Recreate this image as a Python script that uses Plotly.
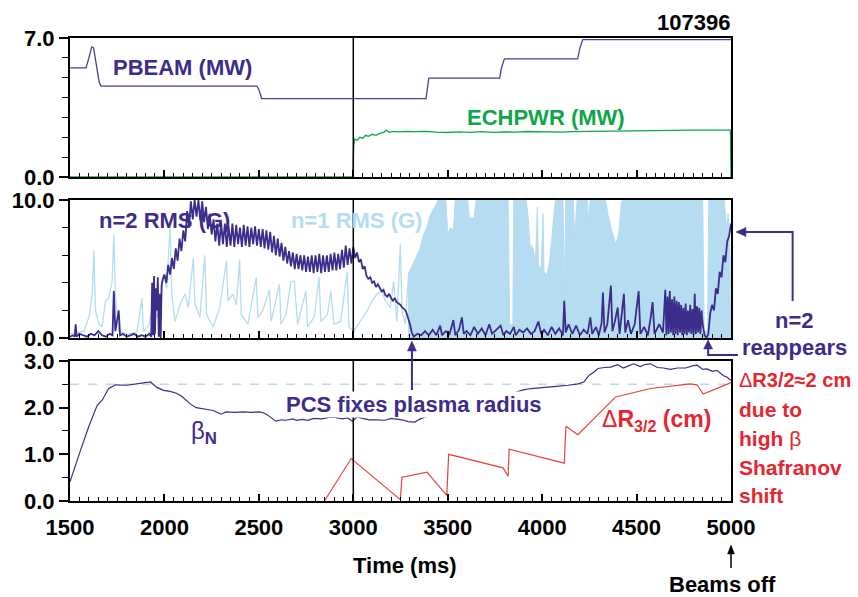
import math
import plotly.graph_objects as go
from plotly.subplots import make_subplots

# ---------------- data ----------------
pbeam_t = [1500, 1585, 1600, 1615, 1625, 1640, 1655, 1665, 2490, 2500, 2515, 3385, 3390, 3400,
           3775, 3785, 3800, 4188, 4200, 4215, 5000]
pbeam_v = [5.5, 5.5, 6.0, 6.55, 6.5, 5.5, 4.75, 4.58, 4.58, 4.4, 3.95, 3.95, 4.3, 4.98,
           4.98, 5.5, 5.95, 5.95, 6.5, 6.92, 6.92]

ech_t = [1500, 2998, 3002, 3008, 3020, 3035, 3050, 3065, 3080, 3100, 3120, 3140, 3160, 3175, 3190,
         3210, 3240, 3280, 3320, 3380, 3440, 3500, 3560, 3620, 3680, 3740, 3800, 3860, 3920, 3980,
         4040, 4100, 4160, 4220, 4280, 4340, 4400, 4460, 4520, 4580, 4640, 4700, 4800, 4900, 4997, 5000]
ech_v = [0, 0, 1.6, 1.9, 1.85, 2.0, 1.95, 2.1, 2.05, 2.15, 2.1, 2.2, 2.25, 2.35, 2.25,
         2.3, 2.27, 2.3, 2.28, 2.3, 2.26, 2.24, 2.27, 2.25, 2.28, 2.25, 2.27, 2.26, 2.29, 2.27,
         2.28, 2.26, 2.28, 2.29, 2.28, 2.30, 2.30, 2.31, 2.33, 2.35, 2.35, 2.36, 2.36, 2.36, 2.36, 0]

n1_early_t = [1500, 1539, 1574, 1600, 1618, 1626, 1635, 1653, 1670, 1688, 1705, 1723, 1732, 1740, 1758,
              1802, 1854, 1881, 1889, 1916, 1933, 1960, 1977, 1995, 2012, 2030, 2039, 2056, 2082, 2109,
              2126, 2153, 2161, 2188, 2214, 2223, 2258, 2293, 2328, 2337, 2363, 2381, 2398, 2407, 2442,
              2486, 2495, 2521, 2556, 2565, 2609, 2617, 2644, 2670, 2688, 2705, 2749, 2758, 2793, 2819,
              2828, 2863, 2881, 2898, 2933, 2968, 2977, 3003, 3038, 3074, 3100, 3126, 3152, 3170, 3196,
              3214, 3231, 3249, 3258, 3275, 3293]
n1_early_v = [0.3, 0.4, 0.5, 1.5, 3.2, 6.3, 2.0, 1.0, 0.8, 2.7, 2.9, 4.1, 7.5, 3.2, 0.5,
              0.3, 0.4, 2.9, 0.5, 0.9, 2.0, 1.5, 2.4, 4.6, 3.6, 8.0, 3.2, 1.2, 2.4, 3.2,
              2.2, 5.8, 2.5, 1.5, 6.0, 1.7, 0.8, 2.2, 5.6, 2.7, 3.2, 2.4, 5.7, 1.7, 1.0,
              4.4, 1.5, 2.0, 3.5, 1.2, 3.9, 1.0, 1.7, 4.1, 4.1, 1.0, 3.4, 0.8, 1.5, 4.4,
              1.2, 1.7, 3.4, 1.0, 1.2, 4.8, 0.8, 0.5, 1.2, 2.0, 2.7, 3.2, 3.4, 2.7, 2.2,
              4.1, 1.2, 6.8, 2.0, 1.0, 4.6]

n1_late_t = [3290, 3310, 3320, 3337, 3354, 3372, 3389, 3407, 3433, 3450, 3490, 3500, 3515, 3530, 3540,
             3605, 3615, 3640, 3650, 3820, 3828, 3845, 3850, 3915, 3925, 3935, 3950, 3965, 3975, 3980,
             3995, 4005, 4010, 4025, 4040, 4055, 4070, 4110, 4118, 4125, 4165, 4172, 4185, 4240, 4245,
             4255, 4335, 4350, 4370, 4390, 4405, 4420, 4430, 4850, 4858, 4876, 4882, 4965, 4975, 4985,
             4995, 5000]
n1_late_v = [4.6, 5.2, 5.6, 6.0, 6.5, 7.5, 8.0, 8.9, 9.6, 10, 10, 7.5, 8.0, 7.8, 10,
             10, 8.7, 8.7, 10, 10, 1.0, 1.0, 10, 10, 8.9, 6.8, 6.6, 5.6, 9.5, 5.3,
             5.0, 9.0, 4.8, 4.6, 5.6, 8.0, 10, 10, 3.2, 10, 10, 7.2, 10, 10, 8.5,
             10, 10, 8.9, 7.7, 6.8, 7.5, 9.9, 10, 10, 0.5, 0.5, 10, 10, 8.0, 9.0,
             6.0, 2.0]

n2_t = [1500, 1515, 1525, 1530, 1535, 1550, 1570, 1590, 1610, 1630, 1650, 1670, 1690, 1710, 1725,
        1732, 1740, 1750, 1758, 1765, 1780, 1800, 1820, 1840, 1860, 1880, 1900, 1920, 1930, 1935,
        1940, 1945, 1950, 1955, 1960, 1965, 1970, 1975, 1980, 1985,
        1990, 2000, 2010, 2020, 2030, 2040, 2050, 2060, 2070, 2080, 2090, 2100, 2110, 2120, 2130,
        2140, 2150, 2160, 2170, 2180, 2190, 2200, 2210, 2220, 2230, 2240, 2250, 2260, 2270, 2280,
        2290, 2300, 2310, 2320, 2330, 2340, 2350, 2360, 2370, 2380, 2390, 2400, 2410, 2420, 2430,
        2440, 2450, 2460, 2470, 2480, 2490, 2500, 2510, 2520, 2530, 2540, 2550, 2560, 2570, 2580,
        2590, 2600, 2610, 2620, 2630, 2640, 2650, 2660, 2670, 2680, 2690, 2700, 2710, 2720, 2730,
        2740, 2750, 2760, 2770, 2780, 2790, 2800, 2810, 2820, 2830, 2840, 2850, 2860, 2870, 2880,
        2890, 2900, 2910, 2920, 2930, 2940, 2950, 2960, 2970, 2980, 2990, 3000,
        3010, 3020, 3030, 3040, 3050, 3060, 3070, 3080, 3090, 3100, 3110, 3120, 3130, 3140, 3150,
        3160, 3170, 3180, 3190, 3200, 3210, 3220, 3230, 3240, 3250, 3260, 3270, 3280, 3290, 3300,
        3310, 3320,
        3340, 3360, 3380, 3400, 3420, 3440, 3460, 3470, 3490, 3510, 3530, 3540, 3560, 3575, 3585,
        3600, 3620, 3640, 3660, 3680, 3700, 3720, 3735, 3760, 3780, 3795, 3810, 3830, 3850, 3860,
        3880, 3900, 3920, 3940, 3960, 3980, 3995, 4010, 4030, 4050, 4070, 4090, 4110, 4117, 4125,
        4140, 4160, 4180, 4200, 4220, 4240, 4255, 4265, 4285, 4300, 4315, 4322, 4330, 4345, 4364,
        4372, 4385, 4400, 4410, 4433, 4440, 4455, 4470, 4490, 4511, 4520, 4540, 4560, 4575, 4585,
        4595, 4620, 4640, 4652, 4658, 4664, 4670, 4676, 4682, 4688, 4694, 4700, 4706, 4712, 4718,
        4724, 4730, 4736, 4742, 4748, 4754, 4760, 4766, 4772, 4778, 4784, 4790, 4796, 4802, 4808,
        4814, 4820, 4826, 4832, 4838, 4844, 4850, 4860, 4870, 4880, 4890, 4900, 4910, 4920, 4930,
        4940, 4950, 4960, 4970, 4980, 4990, 5000]
n2_v = [0.1, 0.2, 0.1, 1.0, 0.1, 0.3, 0.2, 0.1, 0.3, 0.2, 0.5, 0.2, 0.1, 0.3, 0.2,
        3.4, 0.5, 1.5, 2.0, 0.2, 0.3, 0.1, 0.2, 0.3, 0.1, 0.2, 0.1, 0.3, 0.1, 4.0,
        0.2, 4.5, 0.3, 3.6, 2.0, 4.4, 0.1, 3.2, 0.0, 3.8,
        4.2, 4.6, 4.0, 5.3, 4.6, 5.8, 5.0, 6.5, 5.6, 7.2, 6.3, 7.8, 7.0, 9.2, 8.0,
        9.9, 8.6, 10.0, 8.8, 10.0, 8.5, 9.9, 8.4, 9.5, 7.9, 9.0, 7.5, 8.6, 7.0, 8.3,
        6.7, 8.4, 6.8, 8.3, 6.6, 8.1, 6.7, 8.3, 6.6, 8.2, 6.8, 8.0, 6.6, 8.2, 6.7,
        8.1, 6.6, 8.0, 6.8, 8.1, 6.7, 7.9, 6.6, 7.9, 6.5, 7.8, 6.4, 7.7, 6.2, 7.4,
        6.0, 7.2, 5.9, 6.9, 5.6, 6.6, 5.4, 6.3, 5.2, 6.2, 5.0, 6.1, 5.0, 6.0, 4.9,
        6.0, 4.8, 5.9, 4.8, 6.0, 4.7, 6.0, 4.8, 6.1, 4.7, 6.0, 4.8, 6.0, 4.8, 6.1,
        4.9, 6.2, 4.9, 6.1, 5.0, 6.4, 5.1, 6.7, 5.3, 6.5, 5.4, 6.6,
        5.8, 6.2, 5.5, 5.7, 5.0, 5.2, 4.5, 4.3, 4.4, 4.0, 4.1, 3.7, 3.9, 3.6, 3.4,
        3.5, 3.1, 3.0, 3.2, 2.9, 2.7, 2.9, 2.6, 2.5, 2.4, 2.2, 2.1, 1.9, 1.5, 1.0,
        0.4, 0.1,
        0.3, 0.2, 0.5, 0.2, 0.6, 0.2, 0.9, 0.2, 0.5, 0.3, 1.3, 0.2, 0.6, 1.5, 0.3,
        0.5, 0.2, 0.8, 0.3, 0.7, 0.2, 1.0, 0.3, 0.6, 0.9, 0.2, 0.5, 0.3, 0.8, 0.2,
        0.6, 0.4, 0.7, 0.3, 0.5, 1.2, 0.3, 0.6, 0.2, 0.8, 0.3, 0.7, 0.2, 2.7, 0.4,
        1.0, 0.3, 0.9, 0.2, 0.6, 0.3, 1.5, 0.3, 0.8, 0.2, 1.1, 3.3, 0.4, 1.0, 3.8,
        0.5, 1.2, 2.2, 0.3, 3.2, 0.4, 1.3, 0.3, 1.0, 3.4, 0.3, 0.8, 0.2, 1.5, 2.6,
        0.3, 1.0, 0.4, 3.5, 0.2, 3.0, 0.3, 3.4, 0.4, 2.8, 0.2, 3.0, 0.3, 2.7, 0.2,
        2.6, 0.4, 2.4, 0.2, 2.2, 0.3, 2.5, 0.2, 2.0, 0.4, 2.4, 0.3, 2.1, 0.2, 3.2,
        0.3, 2.3, 0.4, 2.2, 0.3, 2.0, 1.0, 0.2, 0.0, 0.3, 1.8, 2.4, 2.0, 3.6, 3.2,
        4.8, 4.4, 6.0, 5.5, 7.0, 7.4, 8.3]

beta_t = [1500, 1530, 1556, 1600, 1644, 1670, 1705, 1742, 1800, 1853, 1900, 1926, 1958, 1995, 2030,
          2063, 2090, 2116, 2140, 2168, 2220, 2258, 2290, 2300, 2326, 2370, 2416, 2460, 2505, 2530,
          2547, 2570, 2590, 2620, 2642, 2680, 2700, 2731, 2760, 2790, 2837, 2870, 2905, 2940, 2970,
          2995, 3021, 3050, 3084, 3120, 3168, 3200, 3230, 3258, 3290, 3326, 3350, 3379, 3416, 3450,
          3500, 3550, 3600, 3650, 3700, 3740, 3780, 3821, 3860, 3900, 3942, 4000, 4047, 4090, 4137,
          4189, 4221, 4250, 4270, 4295, 4330, 4363, 4400, 4430, 4460, 4484, 4520, 4540, 4574, 4610,
          4642, 4680, 4716, 4760, 4800, 4821, 4850, 4874, 4900, 4926, 4958, 4980, 5000]
beta_v = [0.41, 0.75, 1.09, 1.6, 2.05, 2.16, 2.41, 2.49, 2.48, 2.51, 2.54, 2.55, 2.44, 2.37, 2.35,
          2.31, 2.25, 2.16, 2.07, 2.0, 1.96, 1.94, 1.88, 1.86, 1.91, 1.90, 1.91, 1.90, 1.91, 1.88,
          1.84, 1.77, 1.71, 1.74, 1.73, 1.76, 1.73, 1.75, 1.73, 1.77, 1.76, 1.79, 1.79, 1.76, 1.78,
          1.71, 1.80, 1.77, 1.74, 1.74, 1.73, 1.77, 1.75, 1.74, 1.70, 1.69, 1.75, 1.80, 1.84, 1.85,
          1.88, 1.93, 1.96, 2.00, 2.06, 2.12, 2.18, 2.30, 2.33, 2.38, 2.41, 2.43, 2.44, 2.46, 2.48,
          2.51, 2.55, 2.70, 2.75, 2.84, 2.86, 2.87, 2.92, 2.85, 2.90, 2.94, 2.88, 2.92, 2.94, 2.86,
          2.85, 2.82, 2.85, 2.85, 2.90, 2.91, 2.82, 2.83, 2.78, 2.80, 2.69, 2.65, 2.58]

dr_t = [2847, 2989, 3249, 3258, 3390, 3495, 3505, 3793, 3820, 3825, 4117, 4126, 4189, 4389, 4574,
        4784, 4820, 4853, 4984, 5000]
dr_v = [0.0, 0.91, 0.03, 0.51, 0.62, 0.12, 1.0, 0.71, 0.53, 1.11, 0.81, 1.6, 1.42, 2.23, 2.41,
        2.51, 2.49, 2.29, 2.51, 2.54]

beta_ref = 2.5
t_mark = 3000

# ---------------- styling ----------------
PURPLE = "#3d2d8a"
PBEAM_C = "#4b3f98"
GREEN = "#0fa54a"
LIGHTBLUE = "#b5dcf1"
RED = "#e52630"
REDLINE = "#e7423b"
FONT = "Liberation Sans, Arial, Helvetica, sans-serif"

W, H = 858, 597
L, R, T, B = 66, 127, 38, 96


def px(x):
    return (x - L) / (W - L - R)


def py(y):
    return (H - B - y) / (H - T - B)


fig = make_subplots(rows=3, cols=1, shared_xaxes=True)

fig.add_trace(go.Scatter(x=pbeam_t, y=pbeam_v, mode="lines", line=dict(color=PBEAM_C, width=1.3)), 1, 1)
fig.add_trace(go.Scatter(x=ech_t, y=ech_v, mode="lines", line=dict(color=GREEN, width=1.3)), 1, 1)

fig.add_trace(go.Scatter(x=n1_early_t, y=n1_early_v, mode="lines", line=dict(color=LIGHTBLUE, width=1.3)), 2, 1)
fig.add_trace(go.Scatter(x=n1_late_t, y=n1_late_v, mode="lines", fill="tozeroy", fillcolor=LIGHTBLUE,
                         line=dict(color=LIGHTBLUE, width=1)), 2, 1)
fig.add_trace(go.Scatter(x=n2_t, y=n2_v, mode="lines", line=dict(color=PURPLE, width=1.8)), 2, 1)

fig.add_trace(go.Scatter(x=dr_t, y=dr_v, mode="lines", line=dict(color=REDLINE, width=1.2)), 3, 1)
fig.add_trace(go.Scatter(x=beta_t, y=beta_v, mode="lines", line=dict(color=PURPLE, width=1.2)), 3, 1)

tickfont = dict(family=FONT, size=22, color="black", weight="bold")
for i in (1, 2, 3):
    fig.update_xaxes(row=i, col=1, range=[1500, 5000], showline=True, linecolor="black", linewidth=2,
                     mirror=True, ticks="inside", ticklen=7, tickwidth=1.5, tickcolor="black",
                     tick0=0, dtick=500, showgrid=False, zeroline=False,
                     minor=dict(dtick=50, tick0=0, ticks="inside", ticklen=4, tickcolor="black",
                                tickwidth=1, showgrid=False),
                     showticklabels=(i == 3), tickfont=tickfont, ticklabelstandoff=6)
yconf = {1: ([0.6998, 1.0], [0, 7], 7, 1), 2: ([0.352, 0.650], [0, 10], 10, 2),
         3: ([0.0, 0.3024], [0, 3], 1, 0.5)}
for i, (dom, rng, dt, mdt) in yconf.items():
    fig.update_yaxes(row=i, col=1, domain=dom, range=rng, tick0=0, dtick=dt, tickformat=".1f",
                     showline=True, linecolor="black", linewidth=2, mirror=True,
                     ticks="outside", ticklen=9, tickwidth=1.5, tickcolor="black",
                     minor=dict(dtick=mdt, tick0=0, ticks="outside", ticklen=6, tickcolor="black",
                                tickwidth=1, showgrid=False),
                     showgrid=False, zeroline=False, tickfont=tickfont)

# reference lines
for yref in ("y", "y2", "y3"):
    fig.add_shape(type="line", xref="x", yref=yref + " domain", x0=t_mark, x1=t_mark, y0=0, y1=1,
                  line=dict(color="black", width=1.5), layer="above")
fig.add_shape(type="line", xref="x3 domain", yref="y3", x0=0, x1=1, y0=beta_ref, y1=beta_ref,
              line=dict(color=LIGHTBLUE, width=1.5, dash="dash"), layer="below")


def txt(s, x, y, color, size=22, xanchor="left", weight="bold", bg=None):
    fig.add_annotation(text=s, x=px(x), y=py(y), xref="paper", yref="paper", showarrow=False,
                       xanchor=xanchor, yanchor="middle",
                       font=dict(family=FONT, size=size, color=color, weight=weight),
                       bgcolor=bg, borderpad=0)


txt("107396", 731, 22, "black", xanchor="right")
txt("PBEAM (MW)", 108, 67, PURPLE)
txt("ECHPWR (MW)", 464, 117, GREEN)
txt("n=2 RMS (G)", 94, 220, PURPLE)
txt("n=1 RMS (G)", 287, 220, LIGHTBLUE)
txt("PCS fixes plasma radius", 282, 404, PURPLE, bg="rgba(255,255,255,1)")
txt("β<sub><b>N</b></sub>", 187, 432, PURPLE, size=24, weight="normal")
txt("Δ<b>R</b><sub><b>3/2</b></sub><b> (cm)</b>", 600, 420, RED, size=23, weight="normal")
txt("n=2", 795, 320, PURPLE, xanchor="center")
txt("reappears", 795, 347, PURPLE, xanchor="center")
txt("Δ<b>R3/2≈2 cm</b>", 738, 380, RED, size=20, weight="normal")
txt("due to", 738, 409, RED, size=21)
txt("<b>high</b> β", 738, 438, RED, size=21, weight="normal")
txt("Shafranov", 738, 467, RED, size=21)
txt("shift", 738, 495, RED, size=21)
txt("Time (ms)", 403, 565, "black", xanchor="center")
txt("Beams off", 722, 584, "black", xanchor="center")


def seg(x0, y0, x1, y1, color, width=2):
    fig.add_shape(type="line", xref="paper", yref="paper", x0=px(x0), y0=py(y0), x1=px(x1), y1=py(y1),
                  line=dict(color=color, width=width))


def arrow(x_head, y_head, x_tail, y_tail, color, width=2, hl=10, hw=4.5):
    dx, dy = x_head - x_tail, y_head - y_tail
    n = math.hypot(dx, dy)
    ux, uy = dx / n, dy / n
    bx, by = x_head - ux * hl, y_head - uy * hl
    seg(x_tail, y_tail, bx + ux * 2, by + uy * 2, color, width)
    p1 = (bx - uy * hw, by + ux * hw)
    p2 = (bx + uy * hw, by - ux * hw)
    path = "M {} {} L {} {} L {} {} Z".format(px(x_head), py(y_head), px(p1[0]), py(p1[1]),
                                              px(p2[0]), py(p2[1]))
    fig.add_shape(type="path", xref="paper", yref="paper", path=path, fillcolor=color,
                  line=dict(color=color, width=0.5))


arrow(410, 341, 410, 390, PURPLE)
arrow(736, 232, 793, 232, PURPLE)
seg(793, 231, 793, 301, PURPLE)
arrow(708, 340, 708, 355, PURPLE, hl=9)
seg(707, 355, 738, 355, PURPLE)
arrow(731, 545, 731, 568, "black", 1.5, hl=9, hw=3.5)

fig.update_layout(width=W, height=H, margin=dict(l=L, r=R, t=T, b=B), showlegend=False,
                  plot_bgcolor="white", paper_bgcolor="white",
                  font=dict(family=FONT, color="black"))

fig.write_html("out.html")
